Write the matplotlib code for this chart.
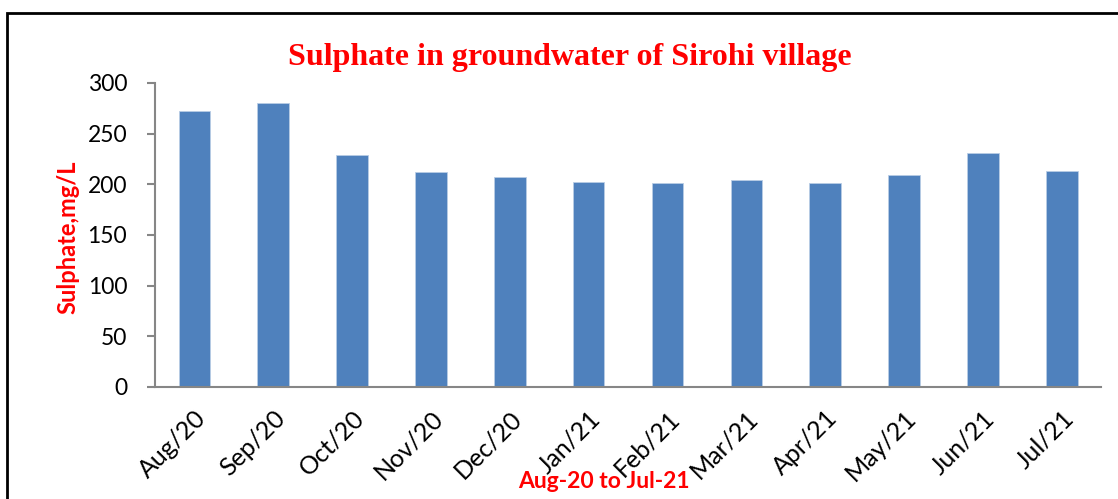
import matplotlib
matplotlib.use("Agg")
import matplotlib.pyplot as plt
from matplotlib.patches import Rectangle

# Data
months = ["Aug/20", "Sep/20", "Oct/20", "Nov/20", "Dec/20", "Jan/21",
          "Feb/21", "Mar/21", "Apr/21", "May/21", "Jun/21", "Jul/21"]
sulphate = [272, 280, 229, 212, 207, 202, 201, 204, 201, 209, 231, 213]
yticks = [0, 50, 100, 150, 200, 250, 300]

red = "#FF0000"
bar_blue = "#4F81BD"
axis_grey = "#868686"

fig = plt.figure(figsize=(11.18, 4.99), dpi=100)
ax = fig.add_axes([0.1386, 0.2245, 0.8464, 0.6092])

ax.bar(range(len(months)), sulphate, width=0.4, color=bar_blue,
       edgecolor="#B9CDE5", linewidth=0.6)

ax.set_xlim(-0.5, len(months) - 0.5)
ax.set_ylim(0, 300)
ax.set_yticks(yticks)
ax.set_xticks(range(len(months)))
ax.set_xticklabels(months, rotation=45, ha="right", rotation_mode="anchor",
                   fontsize=18, family="Lato")
ax.set_yticklabels([str(v) for v in yticks], fontsize=16.5, family="Lato")

for side in ["top", "right"]:
    ax.spines[side].set_visible(False)
for side in ["left", "bottom"]:
    ax.spines[side].set_color(axis_grey)
    ax.spines[side].set_linewidth(1.5)
ax.tick_params(axis="y", length=6, width=1.5, color=axis_grey, pad=14)
ax.tick_params(axis="x", length=0, pad=14)

fig.text(0.51, 0.884, "Sulphate in groundwater of Sirohi village",
         ha="center", va="center", color=red, fontsize=23,
         fontweight="bold", family="Liberation Serif")
fig.text(0.061, 0.525, "Sulphate,mg/L", ha="center", va="center",
         rotation=90, color=red, fontsize=17, fontweight="bold", family="Lato")
fig.text(0.54, 0.035, "Aug-20 to Jul-21", ha="center", va="center",
         color=red, fontsize=16.5, fontweight="bold", family="Lato")

# outer frame around the chart
frame = Rectangle((0.0063, -0.05), 1.05, 1.0239, transform=fig.transFigure,
                  fill=False, edgecolor="black", linewidth=2)
fig.patches.append(frame)

fig.savefig("out.png", dpi=100)
